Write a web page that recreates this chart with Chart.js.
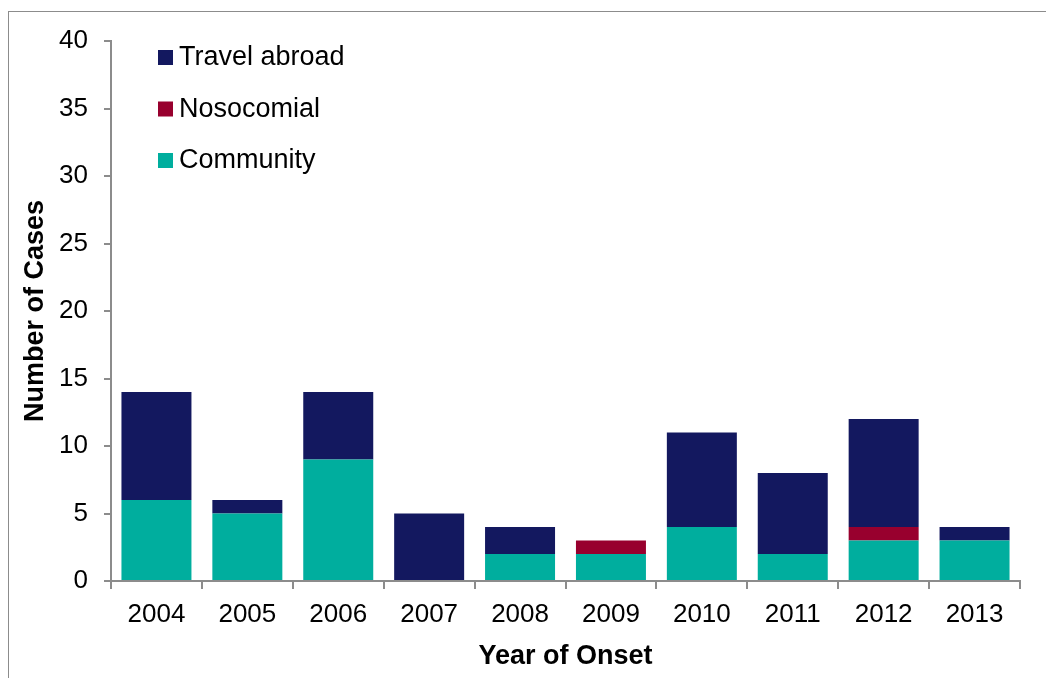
<!DOCTYPE html>
<html>
<head>
<meta charset="utf-8">
<script src="https://cdn.jsdelivr.net/npm/chart.js@4/dist/chart.umd.min.js"></script>
<style>
  html, body { margin: 0; padding: 0; background: #fff; }
  #wrap { position: relative; width: 1046px; height: 678px; overflow: hidden; }
  #frame { position: absolute; left: 8px; top: 11px; width: 1100px; height: 700px; border: 1px solid #8c8c8c; box-sizing: border-box; }
  canvas { position: absolute; left: 0; top: 0; }
</style>
</head>
<body>
<div id="wrap">
  <div id="frame"></div>
  <canvas id="chart" width="1046" height="678"></canvas>
</div>
<script>
const years = ['2004', '2005', '2006', '2007', '2008', '2009', '2010', '2011', '2012', '2013'];
const community = [6, 5, 9, 0, 2, 2, 4, 2, 3, 3];
const nosocomial = [0, 0, 0, 0, 0, 1, 0, 0, 1, 0];
const travelAbroad = [8, 1, 5, 5, 2, 0, 7, 6, 8, 1];
const yTicks = [0, 5, 10, 15, 20, 25, 30, 35, 40];

const FONT = '"Liberation Sans", Arial, sans-serif';
const AXIS_GREY = '#8c8c8c';

// legend drawn inside the plot, top-left, in reverse stack order
const legendInPlot = {
  id: 'legendInPlot',
  afterDraw(chart) {
    const ctx = chart.ctx;
    const area = chart.chartArea;
    const sets = chart.data.datasets.slice().reverse();
    ctx.save();
    ctx.font = '27px ' + FONT;
    ctx.textBaseline = 'middle';
    sets.forEach((ds, i) => {
      const y = area.top + 16 + i * 51.5;
      ctx.fillStyle = ds.backgroundColor;
      ctx.fillRect(area.left + 47, y - 7, 15, 15);
      ctx.fillStyle = '#000';
      ctx.fillText(ds.label, area.left + 68, y + 1);
    });
    ctx.restore();
  }
};

new Chart(document.getElementById('chart'), {
  type: 'bar',
  data: {
    labels: years,
    datasets: [
      { label: 'Community', data: community, backgroundColor: '#00ae9e' },
      { label: 'Nosocomial', data: nosocomial, backgroundColor: '#98002e' },
      { label: 'Travel abroad', data: travelAbroad, backgroundColor: '#13185f' }
    ]
  },
  options: {
    responsive: false,
    animation: false,
    events: [],
    layout: { padding: { left: 0, top: 41, right: 26, bottom: 0 } },
    datasets: { bar: { barPercentage: 0.77, categoryPercentage: 1.0 } },
    plugins: { legend: { display: false }, tooltip: { enabled: false } },
    scales: {
      x: {
        stacked: true,
        afterFit: (s) => { s.height = 97; },
        border: { color: AXIS_GREY, width: 2 },
        grid: { offset: true, drawOnChartArea: false, color: AXIS_GREY, lineWidth: 2, tickLength: 8 },
        ticks: { color: '#000', font: { family: FONT, size: 26 }, padding: 10, maxRotation: 0 },
        title: {
          display: true, text: 'Year of Onset', color: '#000',
          font: { family: FONT, size: 27, weight: 'bold' }, padding: { top: 0, bottom: 5 }
        }
      },
      y: {
        stacked: true,
        min: 0, max: 40,
        afterFit: (s) => { s.width = 111; },
        afterBuildTicks: (s) => { s.ticks = yTicks.map(v => ({ value: v })); },
        border: { color: AXIS_GREY, width: 2 },
        grid: { drawOnChartArea: false, color: AXIS_GREY, lineWidth: 2, tickLength: 7 },
        ticks: { color: '#000', font: { family: FONT, size: 26 }, padding: 16 },
        title: {
          display: true, text: 'Number of Cases', color: '#000',
          font: { family: FONT, size: 27, weight: 'bold' }, padding: { top: 19, bottom: 0 }
        }
      }
    }
  },
  plugins: [legendInPlot]
});
</script>
</body>
</html>
